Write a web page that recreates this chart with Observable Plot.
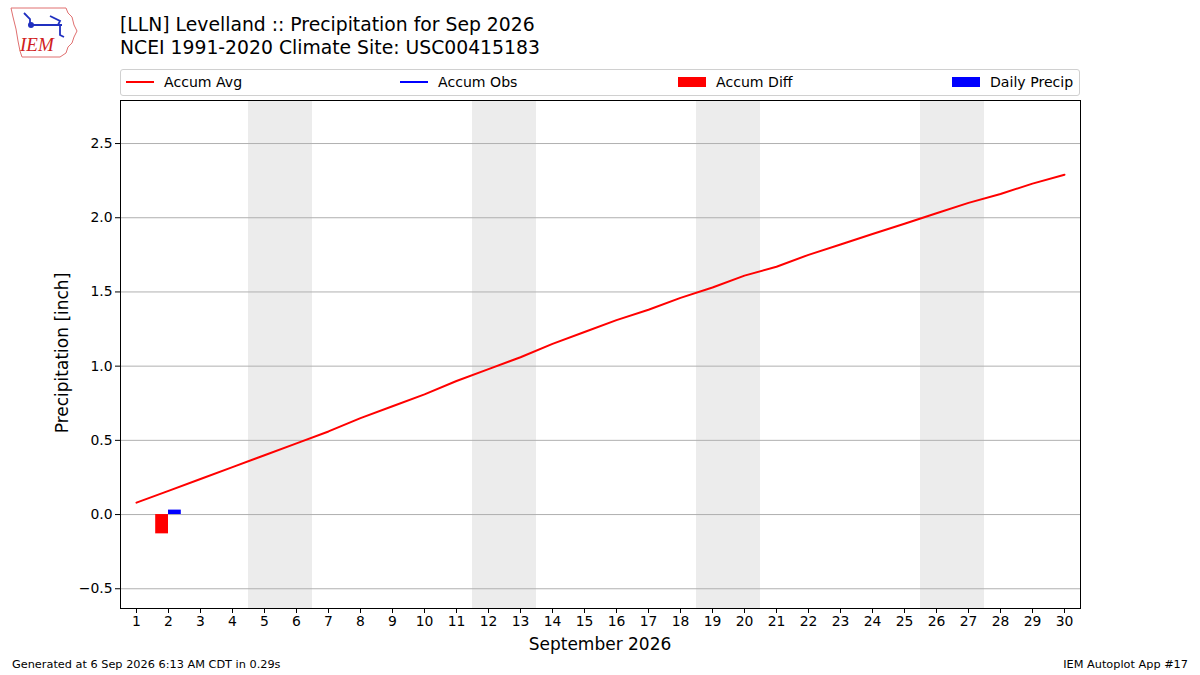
<!DOCTYPE html>
<html>
<head>
<meta charset="utf-8">
<script src="https://cdn.jsdelivr.net/npm/d3@7"></script>
<script src="https://cdn.jsdelivr.net/npm/@observablehq/plot@0.6"></script>
<style>
  html, body { margin: 0; padding: 0; background: #fff; }
  body { width: 1200px; height: 675px; position: relative; overflow: hidden; font-family: "DejaVu Sans", sans-serif; color: #000; }
  .abs { position: absolute; white-space: nowrap; }
  #chart { position: absolute; left: 0; top: 0; }
  .title { font-size: 18.8px; line-height: 23px; }
  .legend { left: 120px; top: 69px; width: 958px; height: 25px; border: 1px solid #d0d0d0; border-radius: 3px; background: #fff; font-size: 14.1px; }
  .legend .item { position: absolute; top: 0; height: 25px; line-height: 25px; }
  .footer { font-size: 11.3px; }
</style>
</head>
<body>
<script>
// ---- data ----
const days = d3.range(1, 31);
const accumAvg = [0.08, 0.16, 0.24, 0.32, 0.40, 0.48, 0.56, 0.65, 0.73, 0.81,
                  0.90, 0.98, 1.06, 1.15, 1.23, 1.31, 1.38, 1.46, 1.53, 1.61,
                  1.67, 1.75, 1.82, 1.89, 1.96, 2.03, 2.10, 2.16, 2.23, 2.29];
const obsDays = [2];
const accumDiff = [-0.13];
const dailyPrecip = [0.03];
const weekendDays = [5, 6, 12, 13, 19, 20, 26, 27];
const yTicks = [-0.5, 0, 0.5, 1.0, 1.5, 2.0, 2.5];
const xTicks = days;

const avgData = days.map((d, i) => ({day: d, value: accumAvg[i]}));
const diffData = obsDays.map((d, i) => ({day: d, value: accumDiff[i]}));
const dailyData = obsDays.map((d, i) => ({day: d, value: dailyPrecip[i]}));

const fmt = v => (v < 0 ? "\u2212" : "") + Math.abs(v).toFixed(1);

const chart = Plot.plot({
  width: 1200,
  height: 675,
  marginLeft: 120,
  marginRight: 120,
  marginTop: 100,
  marginBottom: 67,
  style: {fontFamily: "DejaVu Sans, sans-serif", fontSize: "13.9px", background: "transparent", color: "#000"},
  x: {type: "linear", domain: [0.5, 30.5], ticks: xTicks, tickFormat: d => String(d), tickSize: 5, tickPadding: 3, label: null},
  y: {type: "linear", domain: [-0.633, 2.79], ticks: yTicks, tickFormat: fmt, tickSize: 5, tickPadding: 3, label: null},
  marks: [
    Plot.rectY(weekendDays, {x1: d => d - 0.5, x2: d => d + 0.5, y1: -0.633, y2: 2.79, fill: "#ececec"}),
    Plot.ruleY(yTicks, {stroke: "#b0b0b0", strokeWidth: 1}),
    Plot.rectY(diffData, {x1: d => d.day - 0.4, x2: d => d.day, y1: 0, y2: "value", fill: "#ff0000", inset: 0}),
    Plot.rectY(dailyData, {x1: d => d.day, x2: d => d.day + 0.4, y1: 0, y2: "value", fill: "#0000ff", inset: 0}),
    Plot.line(avgData, {x: "day", y: "value", stroke: "#ff0000", strokeWidth: 2}),
    Plot.axisX({ticks: xTicks, tickFormat: d => String(d), tickSize: 5, tickPadding: 3, label: null, fontSize: 13.9}),
    Plot.axisY({ticks: yTicks, tickFormat: fmt, tickSize: 5, tickPadding: 3, label: null, fontSize: 13.9}),
    Plot.frame({stroke: "#000", strokeWidth: 1})
  ]
});
chart.id = "chart";
document.body.appendChild(chart);

function addText(txt, cls, css) {
  const el = document.createElement("div");
  el.className = "abs " + cls;
  el.textContent = txt;
  Object.assign(el.style, css);
  document.body.appendChild(el);
  return el;
}

// titles
addText("[LLN] Levelland :: Precipitation for Sep 2026", "title", {left: "120px", top: "13px"});
addText("NCEI 1991-2020 Climate Site: USC00415183", "title", {left: "120px", top: "36px"});

// axis labels
addText("September 2026", "", {left: "600px", top: "634px", transform: "translateX(-50%)", fontSize: "17px"});
addText("Precipitation [inch]", "", {left: "62px", top: "353px", transform: "translate(-50%,-50%) rotate(-90deg)", fontSize: "17px"});

// footers
addText("Generated at 6 Sep 2026 6:13 AM CDT in 0.29s", "footer", {left: "12px", top: "658px"});
addText("IEM Autoplot App #17", "footer", {right: "12px", top: "658px"});

// legend
const legend = document.createElement("div");
legend.className = "abs legend";
document.body.appendChild(legend);
const legendItems = [
  {label: "Accum Avg", color: "#ff0000", kind: "line", x: 5},
  {label: "Accum Obs", color: "#0000ff", kind: "line", x: 279},
  {label: "Accum Diff", color: "#ff0000", kind: "patch", x: 557},
  {label: "Daily Precip", color: "#0000ff", kind: "patch", x: 831}
];
for (const it of legendItems) {
  const sw = document.createElement("div");
  sw.style.position = "absolute";
  sw.style.left = it.x + "px";
  sw.style.width = "28px";
  sw.style.background = it.color;
  if (it.kind === "line") { sw.style.top = "11px"; sw.style.height = "2px"; }
  else { sw.style.top = "7px"; sw.style.height = "10px"; }
  legend.appendChild(sw);
  const t = document.createElement("div");
  t.className = "item";
  t.style.left = (it.x + 38) + "px";
  t.textContent = it.label;
  legend.appendChild(t);
}

// IEM logo (approximate)
const logo = d3.select("body").append("svg")
  .attr("width", 72).attr("height", 60)
  .style("position", "absolute").style("left", "8px").style("top", "5px");
logo.append("path")
  .attr("d", "M3,3 L58,3 L60,8 L64,12 L66,20 L69,26 L66,32 L64,38 L60,42 L58,48 L52,52 L14,52 L12,46 L10,36 L8,24 L5,12 Z")
  .attr("fill", "none").attr("stroke", "#e07070").attr("stroke-width", 1);
logo.append("path").attr("d", "M22,20 L54,20 M42,11 L52,16 L50,20 M16,8 L22,14 L22,20 M52,20 L52,30 L56,32")
  .attr("fill", "none").attr("stroke", "#2030c0").attr("stroke-width", 1.8);
logo.append("circle").attr("cx", 23).attr("cy", 20).attr("r", 3).attr("fill", "#2030c0");
logo.append("text").attr("x", 12).attr("y", 46).text("IEM")
  .attr("fill", "#d02020").attr("font-family", "Liberation Serif, serif").attr("font-style", "italic").attr("font-size", 19);
</script>
</body>
</html>
